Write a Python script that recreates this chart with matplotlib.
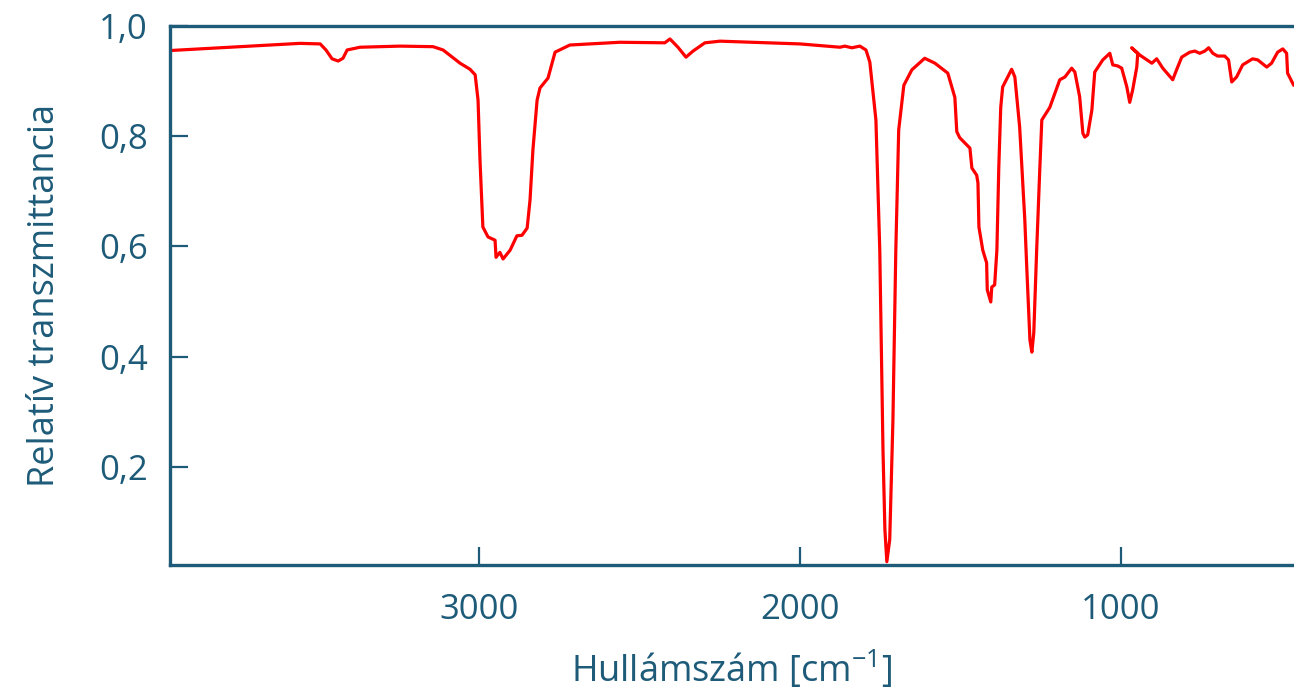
import numpy as np
import matplotlib
matplotlib.use('Agg')
import matplotlib.pyplot as plt

# IR spektrum: hullámszám (cm-1) és relatív transzmittancia
wavenumber = [3963, 3776, 3558, 3495, 3477, 3458, 3439, 3424, 3411, 3371, 3246, 3143, 3112,
              3059, 3028, 3012, 3003, 2997, 2988, 2972, 2950, 2947, 2935, 2925, 2903, 2882,
              2866, 2850, 2841, 2832, 2819, 2810, 2785, 2763, 2717, 2561, 2421, 2405, 2380,
              2355, 2333, 2296, 2249, 2000, 1875, 1860, 1838, 1813, 1794,
              1782, 1763, 1751, 1741, 1735, 1729, 1720, 1710, 1701, 1692, 1676, 1651, 1611,
              1579, 1539, 1517, 1511, 1502, 1470, 1464, 1449, 1445, 1442, 1430, 1418, 1416,
              1405, 1402, 1393, 1386, 1380, 1374, 1368, 1340, 1330, 1315, 1308, 1299, 1293,
              1283, 1277, 1271, 1262, 1252, 1246, 1221, 1190, 1174, 1153, 1143, 1128, 1118,
              1112, 1103, 1090, 1081, 1056, 1034, 1025, 1009, 997, 981, 972, 963, 950, 947,
              966, 941, 903, 888, 869, 838, 826, 810, 785, 769, 754, 738, 726, 713, 698, 676,
              664, 654, 639, 620, 589, 573, 545, 530, 511, 495, 483, 480, 461]
transmittance = [0.955, 0.961, 0.968, 0.967, 0.956, 0.940, 0.936, 0.941, 0.956, 0.961, 0.963,
                 0.962, 0.956, 0.932, 0.921, 0.911, 0.865, 0.757, 0.635, 0.617, 0.611, 0.580,
                 0.589, 0.577, 0.593, 0.619, 0.620, 0.633, 0.684, 0.775, 0.865, 0.887, 0.905,
                 0.952, 0.965, 0.970, 0.969, 0.976, 0.961, 0.943, 0.954, 0.969, 0.972, 0.967,
                 0.961, 0.963, 0.960, 0.963, 0.956,
                 0.934, 0.829, 0.593, 0.231, 0.086, 0.028, 0.068, 0.285, 0.593, 0.811, 0.892,
                 0.920, 0.941, 0.932, 0.914, 0.870, 0.808, 0.797, 0.778, 0.742, 0.729, 0.715,
                 0.635, 0.593, 0.570, 0.521, 0.499, 0.526, 0.530, 0.593, 0.744, 0.852, 0.889,
                 0.921, 0.907, 0.816, 0.744, 0.648, 0.563, 0.430, 0.408, 0.443, 0.593, 0.744,
                 0.829, 0.852, 0.902, 0.907, 0.923, 0.916, 0.871, 0.805, 0.798, 0.802, 0.847,
                 0.916, 0.938, 0.950, 0.929, 0.927, 0.923, 0.889, 0.861, 0.883, 0.925, 0.950,
                 0.960, 0.947, 0.932, 0.940, 0.923, 0.902, 0.920, 0.943, 0.952, 0.954, 0.950,
                 0.954, 0.960, 0.950, 0.945, 0.945, 0.938, 0.898, 0.907, 0.929, 0.940, 0.938,
                 0.925, 0.932, 0.952, 0.958, 0.950, 0.914, 0.892]

y_ticks = [0.2, 0.4, 0.6, 0.8, 1.0]
y_ticklabels = ['0,2', '0,4', '0,6', '0,8', '1,0']
x_ticks = [3000, 2000, 1000]
x_ticklabels = ['3000', '2000', '1000']

axis_color = '#1d5b79'

plt.rcParams['font.family'] = ['Open Sans', 'DejaVu Sans']
plt.rcParams['mathtext.fontset'] = 'custom'
plt.rcParams['mathtext.rm'] = 'Open Sans'

fig = plt.figure(figsize=(12.94, 6.99), dpi=100)
ax = fig.add_axes([0.1314, 0.1917, 0.8686, 0.7715])

ax.plot(wavenumber, transmittance, color='#ff0000', linewidth=2.3,
        solid_joinstyle='round', solid_capstyle='round')

ax.set_xlim(3963, 460)
ax.set_ylim(0.022, 1.0)

ax.set_yticks(y_ticks)
ax.set_yticklabels(y_ticklabels)
ax.set_xticks(x_ticks)
ax.set_xticklabels(x_ticklabels)

for side in ['left', 'top', 'bottom']:
    ax.spines[side].set_color(axis_color)
    ax.spines[side].set_linewidth(2.4)
ax.spines['right'].set_visible(False)

ax.tick_params(axis='both', direction='in', length=13, width=1.6, color=axis_color,
               labelcolor=axis_color, labelsize=25)
ax.tick_params(axis='y', pad=16)
ax.tick_params(axis='x', pad=20)

ax.set_xlabel(r'Hullámszám [cm$^{-1}$]', fontsize=26, color=axis_color, labelpad=16)
ax.set_ylabel('Relatív transzmittancia', fontsize=26, color=axis_color, labelpad=26)

fig.savefig('out.png', dpi=100)
